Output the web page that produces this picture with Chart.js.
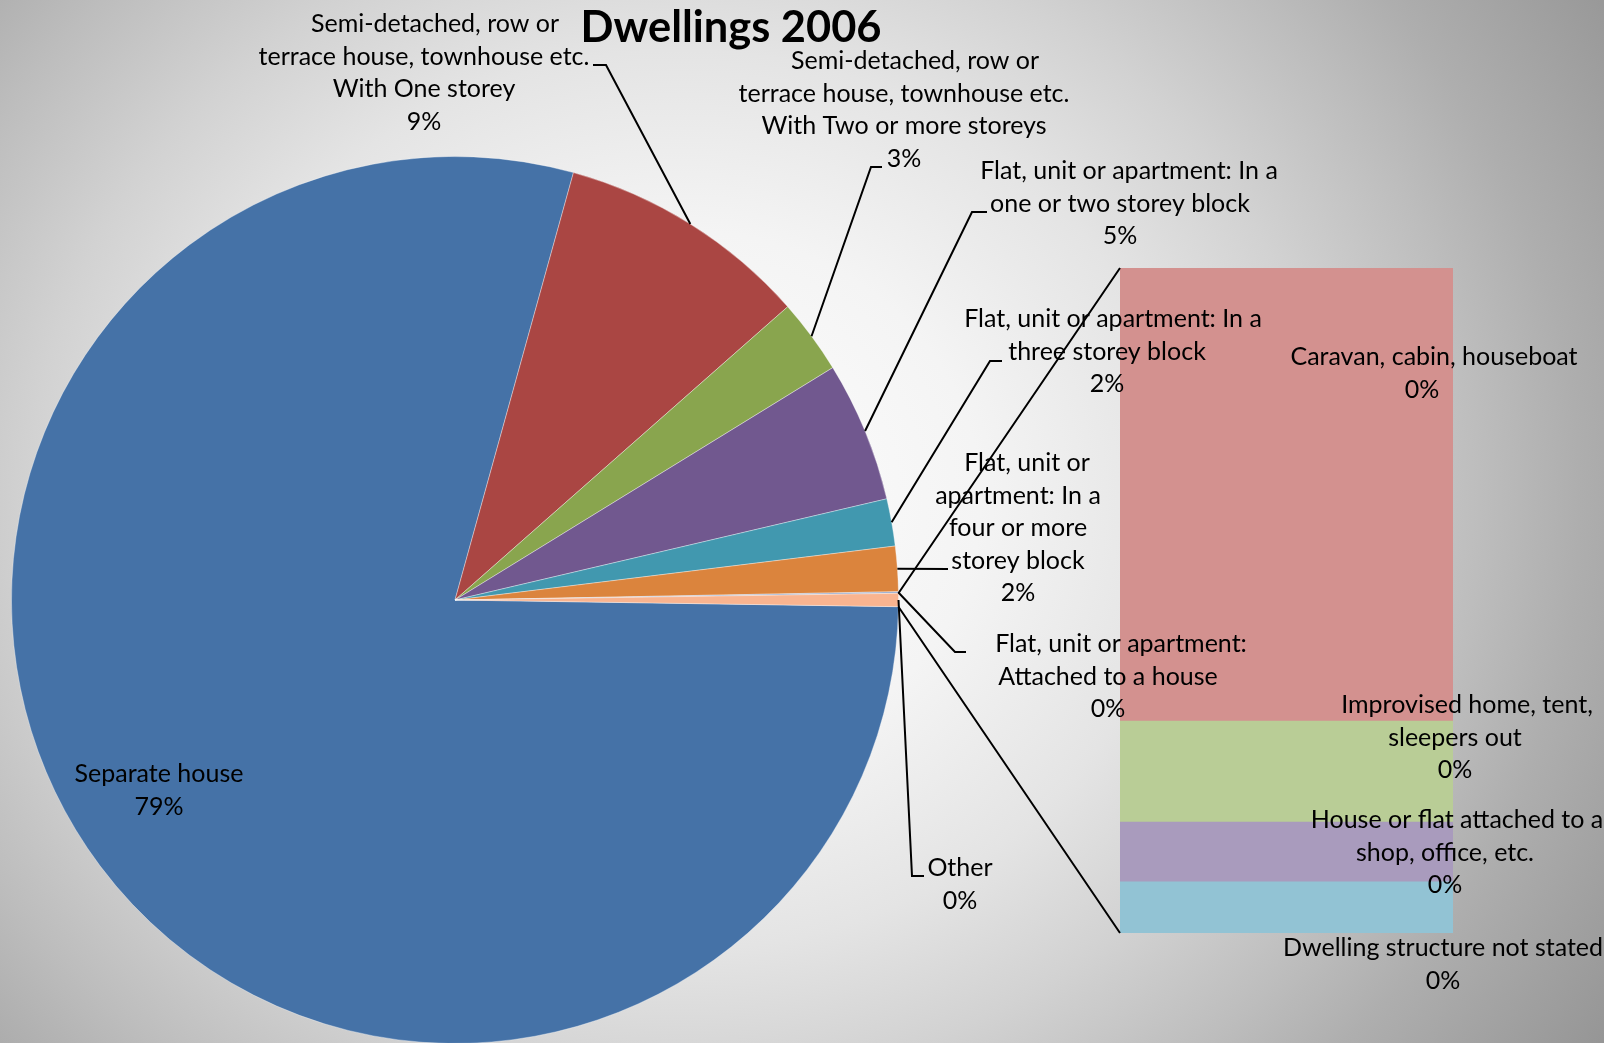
<!DOCTYPE html>
<html>
<head>
<meta charset="utf-8">
<title>Dwellings 2006</title>
<script src="https://cdn.jsdelivr.net/npm/chart.js@4.4.0/dist/chart.umd.min.js"></script>
<style>
  html, body { margin: 0; padding: 0; width: 1604px; height: 1043px; overflow: hidden; }
  body {
    position: relative;
    background: radial-gradient(ellipse 1000px 900px at 680px 500px,
      #ffffff 0%, #f4f4f4 30%, #e4e4e4 50%, #d2d2d2 65%, #bdbdbd 80%, #aeaeae 90%, #a2a2a2 100%, #969696 110%);
  }
  #pie { position: absolute; left: 11px; top: 156px; }
  #bar { position: absolute; left: 0; top: 0; }
</style>
</head>
<body>
<canvas id="pie" width="888" height="888"></canvas>
<canvas id="bar" width="1604" height="1043"></canvas>
<script>
// Pie categories (wrapped the way the labels show them)
const pieCategories = [
    ['Separate house'],
    ['Semi-detached, row or', 'terrace house, townhouse etc.', 'With One storey'],
    ['Semi-detached, row or', 'terrace house, townhouse etc.', 'With Two or more storeys'],
    ['Flat, unit or apartment: In a', 'one or two storey block'],
    ['Flat, unit or apartment: In a', 'three storey block'],
    ['Flat, unit or', 'apartment: In a', 'four or more', 'storey block'],
    ['Flat, unit or apartment:', 'Attached to a house'],
    ['Other']
];
// Share of dwellings, % (the "Other" slice is the sum of the bar below)
const pieValues = [79.0, 9.19, 2.72, 5.11, 1.72, 1.64, 0.06];

// Categories split out into the bar, top to bottom
const barCategories = [
    ['Caravan, cabin, houseboat'],
    ['Improvised home, tent,', 'sleepers out'],
    ['House or flat attached to a', 'shop, office, etc.'],
    ['Dwelling structure not stated']
];
const barValues = [0.327, 0.073, 0.043, 0.037];

const pieColors = ['#4572A7', '#AA4643', '#89A54E', '#71588F', '#4198AF', '#DB843D', '#93A9CF', '#F9B490'];
const barColors = ['#D3918F', '#B9CD96', '#A99BBD', '#92C3D4'];

// label placement (centre x, first line y, first line shift)
const pieLabelPos = [
    { x: 159, y: 774, fx: 0 },
    { x: 424, y: 24, fx: 11 },
    { x: 904, y: 61, fx: 11 },
    { x: 1120, y: 171, fx: 9 },
    { x: 1107, y: 319, fx: 6 },
    { x: 1018, y: 463, fx: 9 },
    { x: 1108, y: 644, fx: 13 },
    { x: 960, y: 868, fx: 0 }
];
// leader line points on the label side, ordered outwards from the slice
const pieLeaders = [
    null,
    [[606, 65], [593, 65]],
    [[871, 167], [882, 167]],
    [[972, 212], [987, 212]],
    [[990, 361], [1002, 361]],
    [[948, 569]],
    [[955, 652], [966, 652]],
    [[912, 876], [924, 876]]
];
const barLabelPos = [
    { x: 1422, y: 357, fx: 12 },
    { x: 1455, y: 705, fx: 12 },
    { x: 1445, y: 820, fx: 12 },
    { x: 1443, y: 948, fx: 0 }
];

const otherTotal = barValues.reduce((a, b) => a + b, 0);
const allPieValues = pieValues.concat([otherTotal]);
const pieTotal = allPieValues.reduce((a, b) => a + b, 0);
const pct = v => Math.round(v / pieTotal * 100) + '%';

// fit Lato sizes to the widths of the reference text
const measureCtx = document.createElement('canvas').getContext('2d');
function fitSize(text, weight, width) {
    measureCtx.font = weight + ' 100px Lato';
    return 100 * width / measureCtx.measureText(text).width;
}
const labelSize = fitSize('terrace house, townhouse etc.', 'normal', 331);
const titleSize = fitSize('Dwellings 2006', 'bold', 301);
const lineHeight = 32.5;

const pieChart = new Chart(document.getElementById('pie'), {
    type: 'pie',
    data: {
        labels: pieCategories.map(c => c.join(' ')),
        datasets: [{
            data: allPieValues,
            backgroundColor: pieColors,
            borderColor: 'rgba(255,255,255,0.35)',
            borderWidth: 1
        }]
    },
    options: {
        responsive: false,
        animation: false,
        rotation: 90 + (otherTotal / pieTotal * 360) / 2,
        layout: { padding: 0 },
        plugins: { legend: { display: false }, tooltip: { enabled: false } }
    }
});

function drawLines(ctx, lines, pos) {
    lines.forEach((t, i) => {
        ctx.fillText(t, pos.x + (i === 0 ? pos.fx : 0), pos.y + i * lineHeight);
    });
}

const labelPlugin = {
    id: 'labels',
    afterDraw(chart) {
        const ctx = chart.ctx;
        const ox = pieChart.canvas.offsetLeft;
        const oy = pieChart.canvas.offsetTop;
        const arcs = pieChart.getDatasetMeta(0).data;
        ctx.save();

        // connector lines from the Other slice to the bar
        const other = arcs[arcs.length - 1].getProps(['x', 'y', 'startAngle', 'endAngle', 'outerRadius'], true);
        const metas = chart.data.datasets.map((d, i) => chart.getDatasetMeta(i));
        const topBar = metas[metas.length - 1].data[0].getProps(['x', 'y', 'width', 'base'], true);
        const botBar = metas[0].data[0].getProps(['x', 'y', 'width', 'base'], true);
        ctx.strokeStyle = '#000';
        ctx.lineWidth = 2;
        ctx.beginPath();
        ctx.moveTo(ox + other.x + Math.cos(other.startAngle) * other.outerRadius,
                   oy + other.y + Math.sin(other.startAngle) * other.outerRadius);
        ctx.lineTo(topBar.x - topBar.width / 2, topBar.y);
        ctx.moveTo(ox + other.x + Math.cos(other.endAngle) * other.outerRadius,
                   oy + other.y + Math.sin(other.endAngle) * other.outerRadius);
        ctx.lineTo(botBar.x - botBar.width / 2, botBar.base);
        ctx.stroke();

        // leader lines
        arcs.forEach((arc, i) => {
            const pts = pieLeaders[i];
            if (!pts) return;
            const p = arc.getProps(['x', 'y', 'startAngle', 'endAngle', 'outerRadius'], true);
            const mid = (p.startAngle + p.endAngle) / 2;
            ctx.beginPath();
            ctx.moveTo(ox + p.x + Math.cos(mid) * p.outerRadius, oy + p.y + Math.sin(mid) * p.outerRadius);
            pts.forEach(pt => ctx.lineTo(pt[0], pt[1]));
            ctx.stroke();
        });

        // pie labels
        ctx.fillStyle = '#000';
        ctx.textAlign = 'center';
        ctx.textBaseline = 'middle';
        ctx.font = labelSize.toFixed(2) + 'px Lato';
        pieCategories.forEach((c, i) => {
            drawLines(ctx, c.concat([pct(allPieValues[i])]), pieLabelPos[i]);
        });
        // bar labels
        barCategories.forEach((c, i) => {
            drawLines(ctx, c.concat([pct(barValues[i])]), barLabelPos[i]);
        });

        // title
        ctx.font = 'bold ' + titleSize.toFixed(2) + 'px Lato';
        ctx.fillText('Dwellings 2006', 731, 28);
        ctx.restore();
    }
};

const barChart = new Chart(document.getElementById('bar'), {
    type: 'bar',
    data: {
        labels: ['Other'],
        datasets: barCategories.map((c, i) => ({
            label: c.join(' '),
            data: [barValues[i]],
            backgroundColor: barColors[i],
            borderWidth: 0
        })).reverse()
    },
    options: {
        responsive: false,
        animation: false,
        layout: { padding: { left: 1120, right: 151, top: 268, bottom: 110 } },
        datasets: { bar: { barPercentage: 1, categoryPercentage: 1 } },
        scales: {
            x: { display: false, stacked: true },
            y: { display: false, stacked: true, min: 0, max: otherTotal }
        },
        plugins: { legend: { display: false }, tooltip: { enabled: false } }
    },
    plugins: [labelPlugin]
});
</script>
</body>
</html>
